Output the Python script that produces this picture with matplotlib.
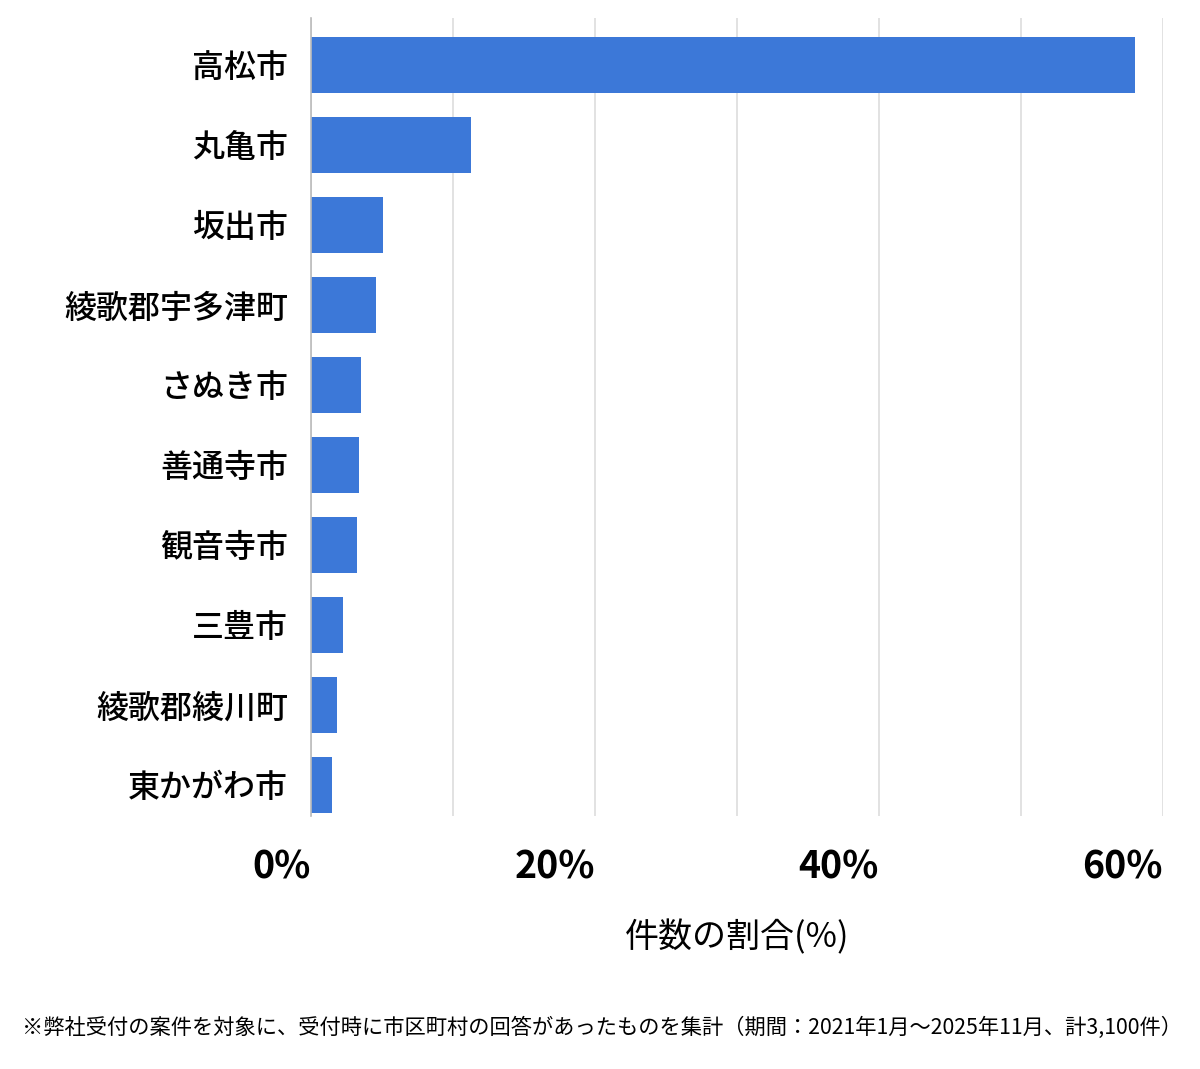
import matplotlib
matplotlib.use('Agg')
import matplotlib.pyplot as plt
import numpy as np

plt.rcParams['font.family'] = ['Noto Sans CJK JP', 'DejaVu Sans']

cities = ['高松市', '丸亀市', '坂出市', '綾歌郡宇多津町', 'さぬき市',
          '善通寺市', '観音寺市', '三豊市', '綾歌郡綾川町', '東かがわ市']
shares = [58.0, 11.3, 5.1, 4.6, 3.55, 3.4, 3.25, 2.25, 1.85, 1.5]
xticks = [0, 20, 40, 60]
xtick_labels = ['0%', '20%', '40%', '60%']
note = '※弊社受付の案件を対象に、受付時に市区町村の回答があったものを集計（期間：2021年1月～2025年11月、計3,100件）'

W, H = 1200, 1069
fig = plt.figure(figsize=(W / 100, H / 100), dpi=100)
ax = fig.add_axes([311 / W, 1 - 816 / H, (1163 - 311) / W, (816 - 18) / H])

y = np.arange(len(cities))
ax.barh(y, shares, height=0.71, color='#3c78d8', zorder=3)

ax.set_xlim(0, 60)
ax.set_ylim(len(cities) - 1 + 0.3875, -0.5875)
ax.set_xticks(xticks)
ax.set_xticks(np.arange(0, 61, 10), minor=True)
ax.xaxis.grid(True, which='both', color='#dddddd', linewidth=1.2, zorder=0)
ax.set_xticklabels(xtick_labels, fontsize=27, fontweight='bold')
for lab in ax.get_xticklabels():
    lab.set_horizontalalignment('right')
ax.tick_params(axis='x', which='both', length=0, pad=23)

ax.set_yticks(y)
ax.set_yticklabels(cities, fontsize=23, fontweight='medium')
ax.tick_params(axis='y', length=0, pad=16.5)

for s in ['top', 'right', 'bottom']:
    ax.spines[s].set_visible(False)
ax.spines['left'].set_color('#bbbbbb')
ax.spines['left'].set_linewidth(1.2)
ax.spines['left'].set_zorder(4)

ax.set_xlabel('件数の割合(%)', fontsize=24.5, labelpad=24)

fig.text(602 / W, 1 - 1028 / H, note, ha='center', va='center', fontsize=15.3)

fig.savefig('out.png', dpi=100, facecolor='white')
